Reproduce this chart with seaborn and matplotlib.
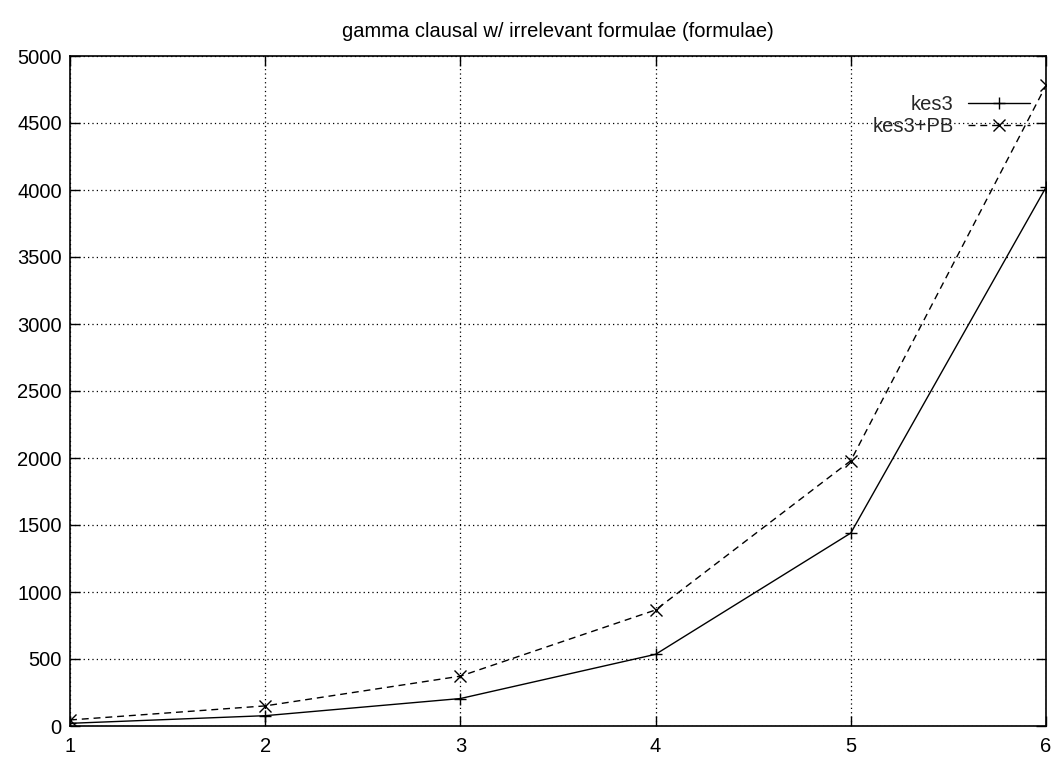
import matplotlib
matplotlib.use("Agg")
import matplotlib.pyplot as plt
import seaborn as sns
import pandas as pd

# problem size and runtimes for the two solver configurations
sizes = [1, 2, 3, 4, 5, 6]
kes3 = [20, 77, 205, 535, 1440, 4020]
kes3_pb = [45, 150, 372, 866, 1980, 4780]
series_names = ["kes3", "kes3+PB"]
x_ticks = [1, 2, 3, 4, 5, 6]
y_ticks = [0, 500, 1000, 1500, 2000, 2500, 3000, 3500, 4000, 4500, 5000]
title = "gamma clausal w/ irrelevant formulae (formulae)"

sns.set_theme(style="white")
plt.rcParams["font.family"] = ["Liberation Sans", "DejaVu Sans"]
FS = 14.5

df = pd.DataFrame({
    "size": sizes * 2,
    "value": kes3 + kes3_pb,
    "series": [series_names[0]] * len(sizes) + [series_names[1]] * len(sizes),
})

fig = plt.figure(figsize=(10.58, 7.58), dpi=100)
ax = fig.add_axes([70 / 1058, 32 / 758, 976 / 1058, 670 / 758])

sns.lineplot(
    data=df, x="size", y="value", hue="series", style="series",
    palette=["black", "black"],
    dashes={series_names[0]: "", series_names[1]: (5, 3.5)},
    markers={series_names[0]: "+", series_names[1]: "x"},
    markersize=8, markeredgewidth=1.0, markeredgecolor="black",
    linewidth=1.0, ax=ax, legend=True,
)

ax.set_xlim(1, 6)
ax.set_ylim(0, 5000)
ax.set_xticks(x_ticks)
ax.set_yticks(y_ticks)
ax.set_xlabel("")
ax.set_ylabel("")
ax.grid(True, color="black", linestyle=(0, (1, 2.5)), linewidth=0.9)
ax.tick_params(axis="both", direction="in", length=7, width=1.0, color="black",
               labelsize=FS, labelcolor="black", pad=6,
               top=True, right=True, bottom=True, left=True)
ax.tick_params(axis="x", pad=8)
for s in ax.spines.values():
    s.set_color("black")
    s.set_linewidth(1.2)
ax.set_title(title, fontsize=FS, color="black", pad=14)

leg = ax.legend(loc="upper right", bbox_to_anchor=(1 - 16 / 976, 1 - 39 / 670),
                frameon=False, fontsize=FS, markerfirst=False,
                handlelength=3.1, handletextpad=0.7,
                borderaxespad=0.0, borderpad=0.0, labelspacing=0.15)
for h in leg.legend_handles:
    h.set_markeredgecolor("black")

fig.savefig("out.png", dpi=100)
